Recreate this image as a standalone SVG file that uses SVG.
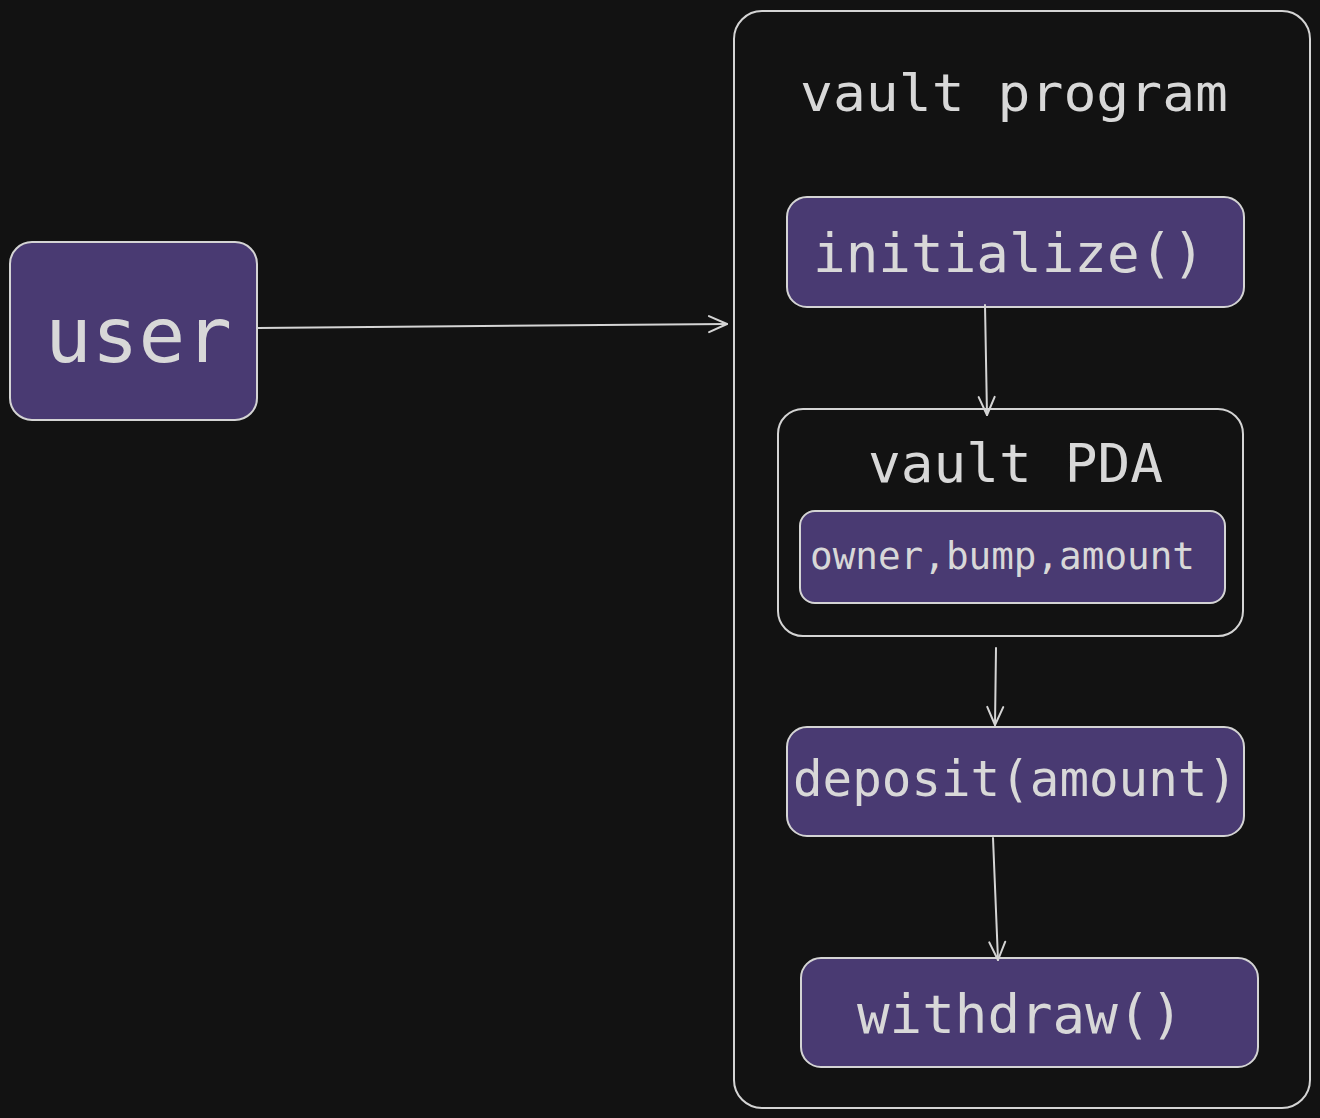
<svg xmlns="http://www.w3.org/2000/svg" width="1320" height="1118" viewBox="0 0 1320 1118">
<defs>
<style>
.box{fill:#493a72;stroke:#d4d4d4;stroke-width:2}
.frame{fill:none;stroke:#d4d4d4;stroke-width:2}
.t{fill:#d8d8d8;font-family:"DejaVu Sans Mono","Liberation Mono",monospace}
.c{fill:none;stroke:#d4d4d4;stroke-width:2;stroke-linecap:round}
</style>
<marker id="ah" markerWidth="24" markerHeight="24" refX="20" refY="10" orient="auto" markerUnits="userSpaceOnUse">
<path d="M2,2 L20,10 L2,18" fill="none" stroke="#d4d4d4" stroke-width="2" stroke-linecap="round" stroke-linejoin="round"/>
</marker>
</defs>
<rect width="1320" height="1118" fill="#121212"/>
<g id="vault-program">
<rect class="frame" x="734" y="11" width="576" height="1097" rx="28"/>
<text class="t" x="800" y="111" font-size="52" textLength="428" lengthAdjust="spacingAndGlyphs">vault program</text>
</g>
<g id="user">
<rect class="box" x="10" y="242" width="247" height="178" rx="22"/>
<text class="t" x="45" y="362" font-size="76" textLength="187" lengthAdjust="spacingAndGlyphs">user</text>
</g>
<g id="initialize">
<rect class="box" x="787" y="197" width="457" height="110" rx="20"/>
<text class="t" x="813" y="272" font-size="54" textLength="392" lengthAdjust="spacingAndGlyphs">initialize()</text>
</g>
<g id="vault-pda">
<rect class="frame" x="778" y="409" width="465" height="227" rx="25"/>
<text class="t" x="868" y="482" font-size="54" textLength="295" lengthAdjust="spacingAndGlyphs">vault PDA</text>
</g>
<g id="fields">
<rect class="box" x="800" y="511" width="425" height="92" rx="15"/>
<text class="t" x="810" y="569" font-size="37" textLength="385" lengthAdjust="spacingAndGlyphs">owner,bump,amount</text>
</g>
<g id="deposit">
<rect class="box" x="787" y="727" width="457" height="109" rx="20"/>
<text class="t" x="793" y="796" font-size="50" textLength="444" lengthAdjust="spacingAndGlyphs">deposit(amount)</text>
</g>
<g id="withdraw">
<rect class="box" x="801" y="958" width="457" height="109" rx="20"/>
<text class="t" x="857" y="1033" font-size="54" textLength="326" lengthAdjust="spacingAndGlyphs">withdraw()</text>
</g>
<g id="connectors">
<path class="c" d="M258,328 L727,324" marker-end="url(#ah)"/>
<path class="c" d="M985,305 L987,415" marker-end="url(#ah)"/>
<path class="c" d="M996,648 L995,725" marker-end="url(#ah)"/>
<path class="c" d="M993,838 L998,960" marker-end="url(#ah)"/>
</g>
</svg>
